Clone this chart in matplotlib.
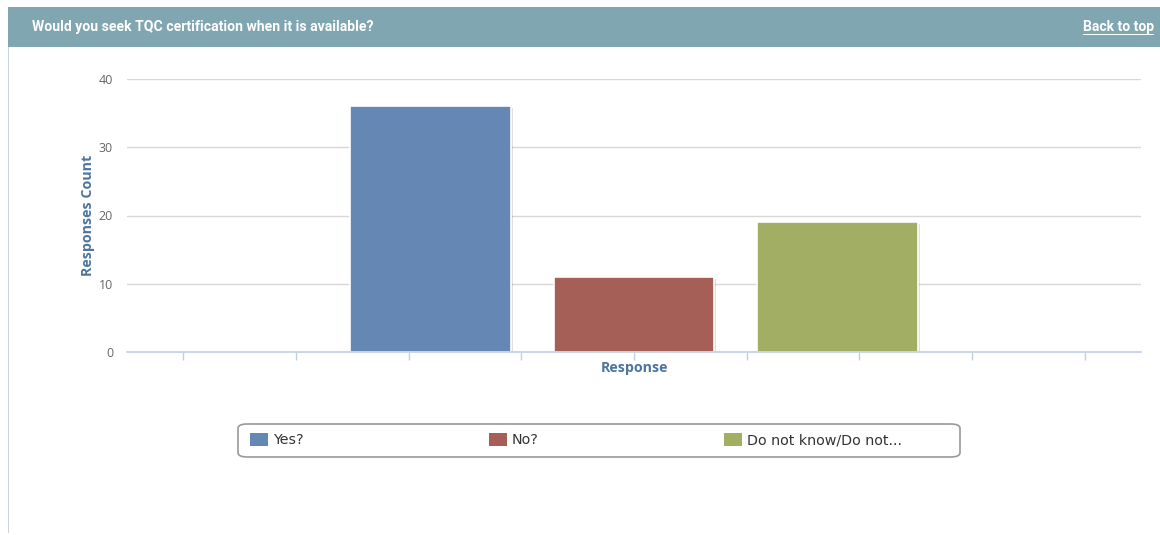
import matplotlib.pyplot as plt
import matplotlib.patheffects as pe
from matplotlib.patches import Rectangle, FancyBboxPatch, Patch
import numpy as np

title = "Would you seek TQC certification when it is available?"
series_names = ["Yes?", "No?", "Do not know/Do not..."]
series_values = [36, 11, 19]
series_colors = ["#6587b3", "#a55f56", "#a2ae63"]
y_ticks = [0, 10, 20, 30, 40]

W, H = 1160, 535
fig = plt.figure(figsize=(W / 100, H / 100), dpi=100)
fig.patch.set_facecolor("white")

# header bar + left border of the panel
fig.patches.append(Rectangle((8 / W, 1 - 47 / H), 1 - 8 / W, 40 / H,
                             transform=fig.transFigure, facecolor="#80a6b2",
                             edgecolor="none", zorder=0))
fig.patches.append(Rectangle((8 / W, 1 - 533 / H), 1.5 / W, (533 - 47) / H,
                             transform=fig.transFigure, facecolor="#c5d6dd",
                             edgecolor="none", zorder=0))
fig.text(32 / W, 1 - 27 / H, title, color="white", fontsize=10.1,
         fontweight="bold", family="Roboto", va="center", ha="left")
fig.text(1154 / W, 1 - 27 / H, "Back to top", color="white", fontsize=10,
         fontweight="bold", family="Roboto", va="center", ha="right")
fig.patches.append(Rectangle((1083 / W, 1 - 35 / H), 71 / W, 1.3 / H,
                             transform=fig.transFigure, facecolor="white",
                             edgecolor="none"))

# plot area
ax = fig.add_axes([127 / W, 1 - 352 / H, 1014 / W, (352 - 79) / H])
n = len(series_values)
offsets = (np.arange(n) - (n - 1) / 2) * 0.2007
bars = ax.bar(offsets, series_values, width=0.158, color=series_colors,
              edgecolor="white", linewidth=1.2, zorder=3)
for b in bars:
    b.set_path_effects([pe.SimplePatchShadow(offset=(1.5, -1.5), alpha=0.15),
                        pe.Normal()])

ax.set_xlim(-0.5, 0.5)
ax.set_ylim(0, 40)
ax.set_yticks(y_ticks)
ax.set_yticklabels([str(t) for t in y_ticks])
ax.set_xticks(np.arange(-4, 5) / 9)
ax.set_xticklabels([])
ax.grid(axis="y", color="#d8d8d8", linewidth=1, zorder=0)
for s in ["top", "right", "left"]:
    ax.spines[s].set_visible(False)
ax.spines["bottom"].set_color("#c0d0e0")
ax.spines["bottom"].set_linewidth(1.2)
ax.spines["bottom"].set_zorder(4)
ax.tick_params(axis="y", length=0, pad=10, labelsize=9, labelcolor="#666666")
ax.tick_params(axis="x", length=6, color="#c0d0e0", width=1)
for lbl in ax.get_yticklabels():
    lbl.set_family("Open Sans")

ax.set_ylabel("Responses Count", fontsize=10.3, fontweight="bold",
              color="#4d759e", family="Open Sans", labelpad=3)
ax.set_xlabel("Response", fontsize=10.3, fontweight="bold",
              color="#4d759e", family="Open Sans", labelpad=-3)

# legend
fig.patches.append(FancyBboxPatch((238 / W, 1 - 457 / H), 722 / W, 33 / H,
                                  boxstyle="round,pad=0,rounding_size=0.008",
                                  transform=fig.transFigure, facecolor="white",
                                  edgecolor="#999999", linewidth=1.2))
handles = [Patch(facecolor=c, edgecolor="none") for c in series_colors]
leg = fig.legend(handles, series_names, ncol=3, frameon=False,
                 loc="center left", bbox_to_anchor=(243 / W, 1 - 440 / H),
                 borderpad=0, handlelength=1.25, handleheight=1.0,
                 handletextpad=0.35, columnspacing=12.95,
                 prop={"family": ["Liberation Sans Narrow", "DejaVu Sans"],
                       "size": 10.3})
for t in leg.get_texts():
    t.set_color("#333333")

fig.savefig("out.png", dpi=100)
